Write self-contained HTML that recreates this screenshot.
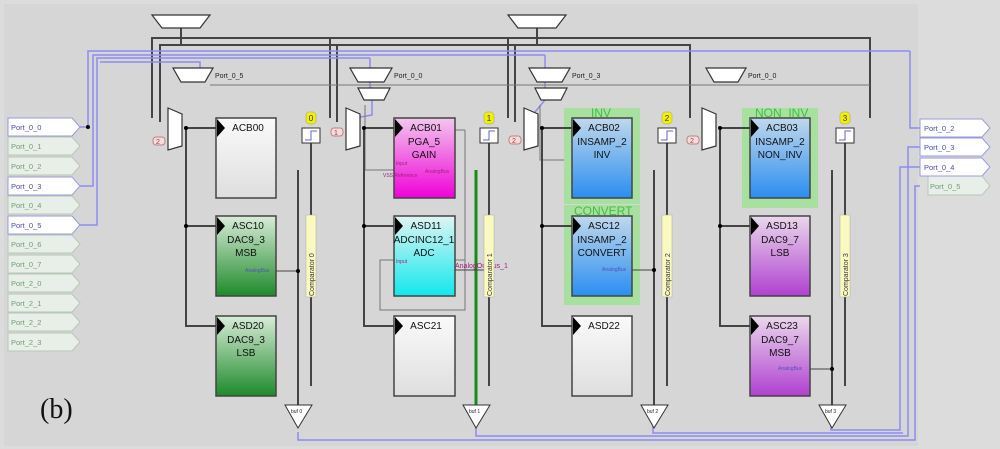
<!DOCTYPE html>
<html><head><meta charset="utf-8"><style>
html,body{margin:0;padding:0;background:#dcdcdc}
svg{display:block}
text{font-family:"Liberation Sans",sans-serif}
</style></head><body>
<svg width="1000" height="449" viewBox="0 0 1000 449" xmlns="http://www.w3.org/2000/svg">
<defs>
<linearGradient id="gw" x1="0" y1="0" x2="0" y2="1"><stop offset="0" stop-color="#fafafa"/><stop offset="1" stop-color="#dedede"/></linearGradient>
<linearGradient id="gg" x1="0" y1="0" x2="0" y2="1"><stop offset="0" stop-color="#d8ecd8"/><stop offset="1" stop-color="#1e8a2a"/></linearGradient>
<linearGradient id="gm" x1="0" y1="0" x2="0" y2="1"><stop offset="0" stop-color="#f2c8ee"/><stop offset="1" stop-color="#f000d8"/></linearGradient>
<linearGradient id="gc" x1="0" y1="0" x2="0" y2="1"><stop offset="0" stop-color="#e0f4f4"/><stop offset="1" stop-color="#10e8ec"/></linearGradient>
<linearGradient id="gb" x1="0" y1="0" x2="0" y2="1"><stop offset="0" stop-color="#c0d8ec"/><stop offset="1" stop-color="#2a8ef0"/></linearGradient>
<linearGradient id="gp" x1="0" y1="0" x2="0" y2="1"><stop offset="0" stop-color="#ead8ec"/><stop offset="1" stop-color="#b040d0"/></linearGradient>
</defs>
<rect x="0" y="0" width="1000" height="449" fill="#dcdcdc"/>
<rect x="4" y="4" width="914" height="442" fill="#d6d6d6"/>

<g stroke="#444" stroke-width="2" fill="none">
<polyline points="152,118 152,38 870,38 870,118"/>
<polyline points="160,122 160,45 690,45 690,118"/>
<line x1="181" y1="28" x2="181" y2="45"/>
<line x1="537" y1="28" x2="537" y2="45"/>
<line x1="330" y1="38" x2="330" y2="118"/>
<line x1="337" y1="45" x2="337" y2="122"/>
<line x1="508" y1="38" x2="508" y2="118"/>
<line x1="515" y1="45" x2="515" y2="122"/>
</g>
<g stroke="#8c8cf0" stroke-width="1.5" fill="none">
<polyline points="80,127 88,127 88,51 910,51"/>
<polyline points="80,186 93,186 93,55 545,55"/>
<polyline points="80,225 97,225 97,58 370,58"/>
<polyline points="100,62 200,62 200,75"/>
<polyline points="370,58 370,88 372,88 372,115 355,118"/>
<polyline points="545,55 545,100 530,118"/>
<polyline points="910,51 910,128 920,128"/>
<polyline points="298,432 298,440 915,440 915,186 920,186"/>
<polyline points="476,425 476,436 908,436 908,147 920,147"/>
<polyline points="653,425 653,433 903,433"/>
<polyline points="831,425 831,430 900,430 900,167 920,167"/>
</g>
<g stroke="#777" stroke-width="1" fill="none">
<line x1="210" y1="85" x2="870" y2="85"/>
<polyline points="540,105 540,160 570,160"/>
<polyline points="365,105 365,170 394,170"/>
<rect x="380" y="260" width="85" height="50"/>
<line x1="455" y1="130" x2="465" y2="130"/><line x1="465" y1="130" x2="465" y2="300"/>
</g>
<g stroke="#333" stroke-width="1.2" fill="#fff">
<polygon points="152,15 210,15 200,28 162,28"/>
<polygon points="508,15 566,15 556,28 518,28"/>
<polygon points="173,68 213,68 205,82 181,82"/>
<polygon points="350,68 392,68 384,82 358,82"/>
<polygon points="358,88 390,88 384,100 364,100"/>
<polygon points="529,68 570,68 562,82 537,82"/>
<polygon points="535,88 567,88 561,100 541,100"/>
<polygon points="706,68 746,68 738,82 714,82"/>
</g>
<g font-size="7" fill="#222">
<text x="215" y="78">Port_0_5</text><text x="394" y="78">Port_0_0</text>
<text x="572" y="78">Port_0_3</text><text x="748" y="78">Port_0_0</text>
</g>

<g font-size="7.5">
<g stroke="#b8c8b8" fill="#e8eee8">
<polygon points="8,137 72,137 80,146 72,155 8,155"/><polygon points="8,157 72,157 80,166 72,175 8,175"/>
<polygon points="8,196 72,196 80,205 72,214 8,214"/>
<polygon points="8,235 72,235 80,244 72,253 8,253"/><polygon points="8,255 72,255 80,264 72,273 8,273"/>
<polygon points="8,274 72,274 80,283 72,292 8,292"/><polygon points="8,294 72,294 80,303 72,312 8,312"/>
<polygon points="8,313 72,313 80,322 72,331 8,331"/><polygon points="8,333 72,333 80,342 72,351 8,351"/>
<polygon points="928,176 982,176 990,186 982,195 928,195"/>
</g>
<g stroke="#9a9ae0" fill="#fff">
<polygon points="8,118 72,118 80,127 72,136 8,136"/><polygon points="8,177 72,177 80,186 72,195 8,195"/>
<polygon points="8,216 72,216 80,225 72,234 8,234"/>
<polygon points="920,119 982,119 990,128 982,137 920,137"/><polygon points="920,138 982,138 990,147 982,156 920,156"/>
<polygon points="920,158 982,158 990,167 982,176 920,176"/>
</g>
<g fill="#4848c8"><text x="11" y="130">Port_0_0</text><text x="11" y="189">Port_0_3</text><text x="11" y="228">Port_0_5</text>
<text x="924" y="131">Port_0_2</text><text x="924" y="150">Port_0_3</text><text x="924" y="170">Port_0_4</text></g>
<g fill="#70a070"><text x="11" y="149">Port_0_1</text><text x="11" y="169">Port_0_2</text><text x="11" y="208">Port_0_4</text>
<text x="11" y="247">Port_0_6</text><text x="11" y="267">Port_0_7</text><text x="11" y="286">Port_2_0</text>
<text x="11" y="306">Port_2_1</text><text x="11" y="325">Port_2_2</text><text x="11" y="345">Port_2_3</text><text x="930" y="189">Port_0_5</text></g>
</g>
<circle cx="88" cy="127" r="2" fill="#000"/>

<g fill="#a8e0a0"><rect x="564" y="108" width="76" height="96"/><rect x="564" y="205" width="76" height="100"/><rect x="742" y="108" width="76" height="100"/></g>
<g font-size="12" fill="#40c040"><text x="591" y="117">INV</text><text x="574" y="215">CONVERT</text><text x="755" y="117">NON_INV</text></g>

<g stroke="#444" stroke-width="2" fill="none">
<polyline points="186,128 186,326 216,326"/><line x1="186" y1="128" x2="216" y2="128"/><line x1="186" y1="226" x2="216" y2="226"/>
<polyline points="364,128 364,326 394,326"/><line x1="364" y1="128" x2="394" y2="128"/><line x1="364" y1="226" x2="394" y2="226"/>
<polyline points="542,128 542,326 572,326"/><line x1="542" y1="128" x2="572" y2="128"/><line x1="542" y1="226" x2="572" y2="226"/>
<polyline points="720,128 720,326 750,326"/><line x1="720" y1="128" x2="750" y2="128"/><line x1="720" y1="226" x2="750" y2="226"/>
<line x1="311" y1="143" x2="311" y2="386"/><line x1="489" y1="143" x2="489" y2="386"/><line x1="667" y1="143" x2="667" y2="386"/><line x1="845" y1="143" x2="845" y2="386"/>
<line x1="298" y1="170" x2="298" y2="405"/><line x1="654" y1="170" x2="654" y2="405"/><line x1="832" y1="170" x2="832" y2="405"/>
</g>
<line x1="476" y1="170" x2="476" y2="405" stroke="#1a8a1a" stroke-width="3"/>
<g stroke="#444" stroke-width="1"><line x1="276" y1="271" x2="298" y2="271"/><line x1="455" y1="270" x2="489" y2="270"/><line x1="632" y1="270" x2="654" y2="270"/><line x1="810" y1="369" x2="832" y2="369"/></g>
<g fill="#000"><circle cx="298" cy="271" r="2"/><circle cx="489" cy="270" r="2"/><circle cx="654" cy="270" r="2"/><circle cx="832" cy="369" r="2"/>
<circle cx="186" cy="128" r="2"/><circle cx="186" cy="226" r="2"/><circle cx="364" cy="128" r="2"/><circle cx="364" cy="226" r="2"/><circle cx="542" cy="128" r="2"/><circle cx="542" cy="226" r="2"/><circle cx="720" cy="128" r="2"/><circle cx="720" cy="226" r="2"/></g>

<g stroke="#333" stroke-width="1.2" fill="#fff">
<polygon points="168,108 182,114 182,146 168,150"/><polygon points="346,108 360,114 360,146 346,150"/>
<polygon points="524,108 538,114 538,146 524,150"/><polygon points="702,108 716,114 716,146 702,150"/>
</g>
<g font-size="7" fill="#a04040"><rect x="153" y="137" width="12" height="8" rx="3" fill="#f4dcdc" stroke="#c08080"/><text x="156" y="144">2</text>
<rect x="331" y="128" width="12" height="8" rx="3" fill="#f4dcdc" stroke="#c08080"/><text x="334" y="135">1</text>
<rect x="509" y="136" width="12" height="8" rx="3" fill="#f4dcdc" stroke="#c08080"/><text x="512" y="143">2</text>
<rect x="687" y="136" width="12" height="8" rx="3" fill="#f4dcdc" stroke="#c08080"/><text x="690" y="143">2</text></g>

<g stroke="#444" stroke-width="1.5">
<rect x="216" y="118" width="60" height="80" fill="url(#gw)"/><rect x="216" y="216" width="60" height="80" fill="url(#gg)"/><rect x="216" y="316" width="60" height="80" fill="url(#gg)"/>
<rect x="394" y="118" width="61" height="80" fill="url(#gm)"/><rect x="394" y="216" width="61" height="80" fill="url(#gc)"/><rect x="394" y="316" width="61" height="80" fill="url(#gw)"/>
<rect x="572" y="118" width="60" height="80" fill="url(#gb)"/><rect x="572" y="216" width="60" height="80" fill="url(#gb)"/><rect x="572" y="316" width="60" height="80" fill="url(#gw)"/>
<rect x="750" y="118" width="60" height="80" fill="url(#gb)"/><rect x="750" y="216" width="60" height="80" fill="url(#gp)"/><rect x="750" y="316" width="60" height="80" fill="url(#gp)"/>
</g>
<g fill="#000">
<polygon points="217,119 225,128 217,137"/><polygon points="217,217 225,226 217,235"/><polygon points="217,317 225,326 217,335"/>
<polygon points="395,119 403,128 395,137"/><polygon points="395,217 403,226 395,235"/><polygon points="395,317 403,326 395,335"/>
<polygon points="573,119 581,128 573,137"/><polygon points="573,217 581,226 573,235"/><polygon points="573,317 581,326 573,335"/>
<polygon points="751,119 759,128 751,137"/><polygon points="751,217 759,226 751,235"/><polygon points="751,317 759,326 751,335"/>
</g>
<g font-size="10" fill="#111" text-anchor="middle">
<text x="248" y="131">ACB00</text>
<text x="248" y="229">ASC10</text><text x="246" y="243">DAC9_3</text><text x="246" y="256">MSB</text>
<text x="248" y="329">ASD20</text><text x="246" y="343">DAC9_3</text><text x="246" y="356">LSB</text>
<text x="426" y="131">ACB01</text><text x="424" y="145">PGA_5</text><text x="424" y="158">GAIN</text>
<text x="426" y="229">ASD11</text><text x="424" y="243">ADCINC12_1</text><text x="424" y="256">ADC</text>
<text x="426" y="329">ASC21</text>
<text x="604" y="131">ACB02</text><text x="602" y="145">INSAMP_2</text><text x="602" y="158">INV</text>
<text x="604" y="229">ASC12</text><text x="602" y="243">INSAMP_2</text><text x="602" y="256">CONVERT</text>
<text x="604" y="329">ASD22</text>
<text x="782" y="131">ACB03</text><text x="780" y="145">INSAMP_2</text><text x="780" y="158">NON_INV</text>
<text x="782" y="229">ASD13</text><text x="780" y="243">DAC9_7</text><text x="780" y="256">LSB</text>
<text x="782" y="329">ASC23</text><text x="780" y="343">DAC9_7</text><text x="780" y="356">MSB</text>
</g>
<g font-size="5" fill="#5050c0"><text x="245" y="272">AnalogBus</text><text x="602" y="271">AnalogBus</text><text x="778" y="370">AnalogBus</text></g>
<g font-size="5" fill="#a02080"><text x="396" y="165">Input</text><text x="383" y="177">VSS Reference</text><text x="425" y="173">AnalogBus</text><text x="396" y="263">Input</text></g>
<text x="455" y="268" font-size="7" fill="#a02080">AnalogOutBus_1</text>

<g stroke="#333" fill="#fff"><rect x="302" y="128" width="18" height="15"/><rect x="480" y="128" width="18" height="15"/><rect x="658" y="128" width="18" height="15"/><rect x="836" y="128" width="18" height="15"/></g>
<g stroke="#6060e0" fill="none"><polyline points="305,140 311,140 311,131 317,131"/><polyline points="483,140 489,140 489,131 495,131"/><polyline points="661,140 667,140 667,131 673,131"/><polyline points="839,140 845,140 845,131 851,131"/></g>
<g fill="#f0f000" stroke="#999" stroke-width="0.5"><rect x="306" y="112" width="10" height="12" rx="3"/><rect x="484" y="112" width="10" height="12" rx="3"/><rect x="662" y="112" width="10" height="12" rx="3"/><rect x="840" y="112" width="10" height="12" rx="3"/></g>
<g font-size="8" fill="#333" text-anchor="middle"><text x="311" y="121">0</text><text x="489" y="121">1</text><text x="667" y="121">2</text><text x="845" y="121">3</text></g>
<g fill="#fafac0" stroke="#aaa" stroke-width="0.5"><rect x="306" y="215" width="10" height="82"/><rect x="484" y="215" width="10" height="82"/><rect x="662" y="215" width="10" height="82"/><rect x="840" y="215" width="10" height="82"/></g>
<g font-size="7" fill="#333">
<text transform="translate(314,296) rotate(-90)">Comparator 0</text><text transform="translate(492,296) rotate(-90)">Comparator 1</text>
<text transform="translate(670,296) rotate(-90)">Comparator 2</text><text transform="translate(848,296) rotate(-90)">Comparator 3</text></g>

<g stroke="#333" fill="#fff"><polygon points="285,405 312,405 298,428"/><polygon points="463,405 490,405 476,428"/><polygon points="641,405 668,405 654,428"/><polygon points="819,405 846,405 832,428"/></g>
<g font-size="5" fill="#222"><text x="291" y="413">buf 0</text><text x="469" y="413">buf 1</text><text x="647" y="413">buf 2</text><text x="825" y="413">buf 3</text></g>

<text x="40" y="418" style="font-family:'Liberation Serif',serif;font-size:28px" fill="#111">(b)</text>
</svg>
</body></html>
